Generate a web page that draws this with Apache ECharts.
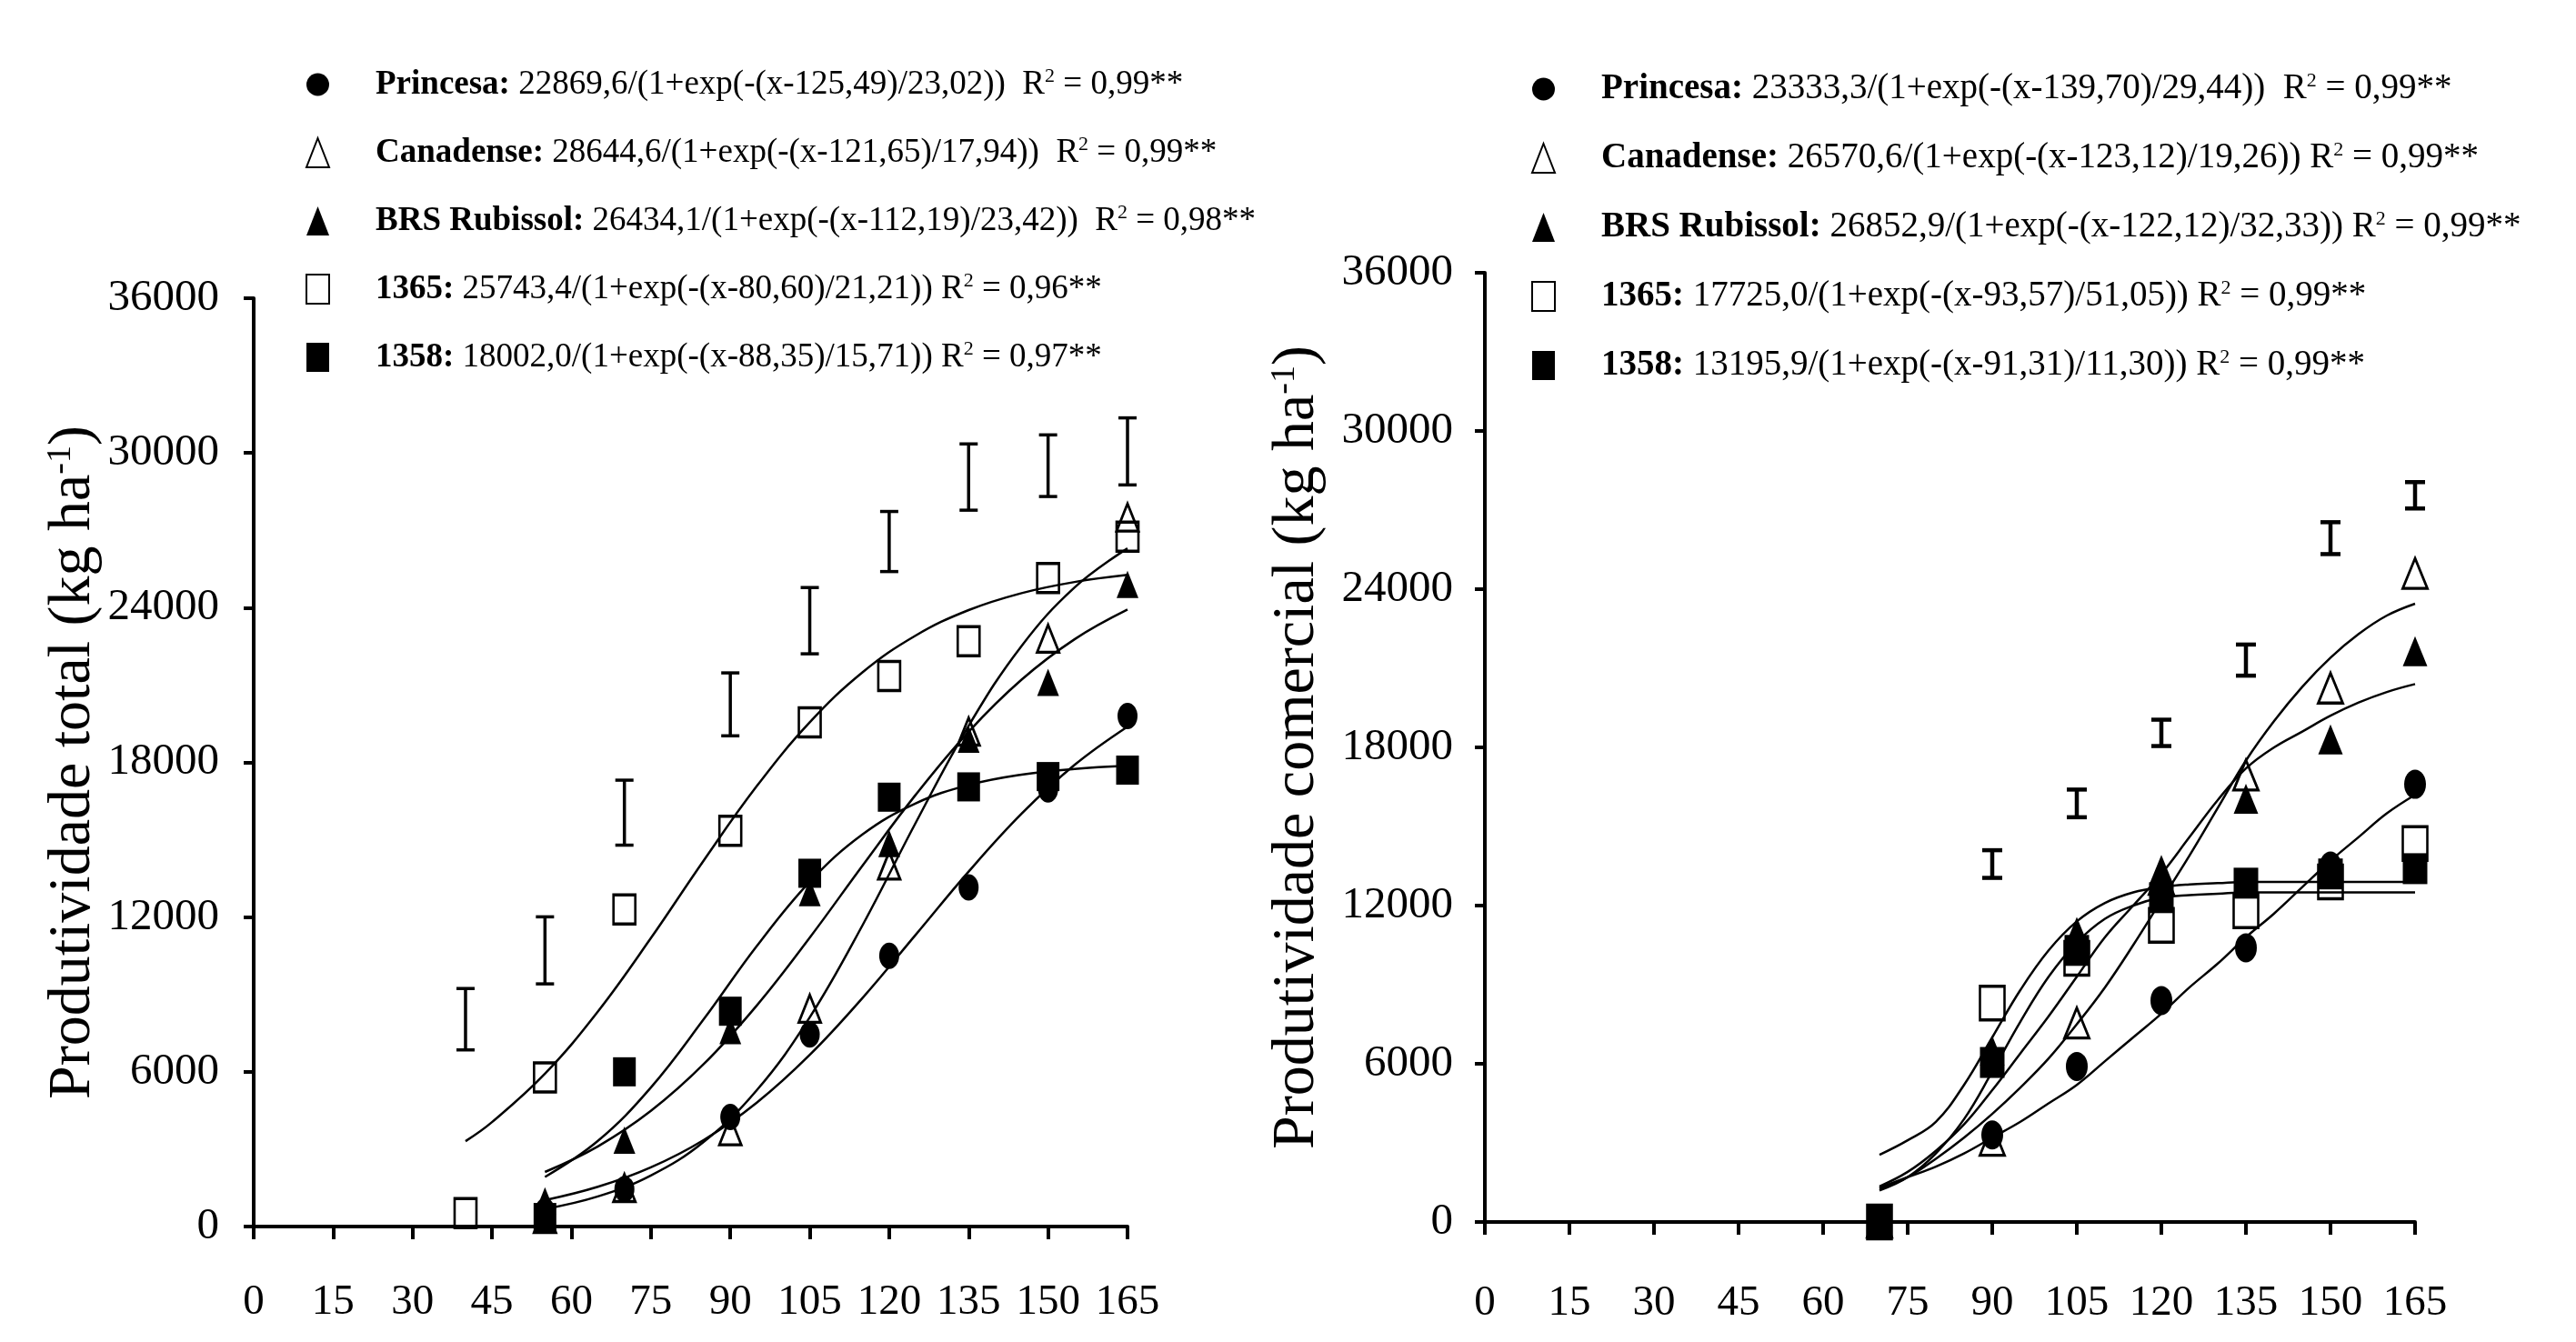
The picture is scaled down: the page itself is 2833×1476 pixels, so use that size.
<!DOCTYPE html>
<html>
<head>
<meta charset="utf-8">
<script src="https://cdn.jsdelivr.net/npm/echarts@6/dist/echarts.min.js"></script>
<style>
  html, body { margin: 0; padding: 0; background: #fff; }
  #chart { width: 2833px; height: 1476px; }
</style>
</head>
<body>
<div id="chart"></div>
<script>
// tick labels
const xTicks = [0, 15, 30, 45, 60, 75, 90, 105, 120, 135, 150, 165];
const yTicks = [0, 6000, 12000, 18000, 24000, 30000, 36000];

const cultivars = ['Princesa', 'Canadense', 'BRS Rubissol', '1365', '1358'];

// ---- Produtividade total (left) ----
const daysTotal = [55, 70, 90, 105, 120, 135, 150, 165];
const days1365Total = [40, 55, 70, 90, 105, 120, 135, 150, 165];
const princesaTotal = [600, 1450, 4250, 7450, 10500, 13150, 16950, 19800];
const canadenseTotal = [300, 1500, 3700, 8450, 14000, 19200, 22800, 27500];
const rubissolTotal = [1000, 3350, 7600, 12950, 14850, 18900, 21100, 24900];
const l1365Total = [520, 5780, 12300, 15350, 19550, 21350, 22700, 25150, 26750];
const l1358Total = [350, 6000, 8350, 13700, 16650, 17050, 17450, 17700];

// fitted curves
const fitDaysTotal = [55, 65, 75, 85, 95, 105, 115, 125, 135, 145, 155, 165];
const fitDays1365Total = [40, 45, 55, 65, 75, 85, 95, 105, 115, 125, 135, 145, 155, 165];
const princesaFitTotal = [1022, 1541, 2296, 3360, 4805, 6658, 8874, 11313, 13764, 16010, 17902, 19386];
const canadenseFitTotal = [681, 1168, 1980, 3288, 5288, 8115, 11698, 15655, 19418, 22517, 24783, 26300];
const rubissolFitTotal = [2116, 3110, 4485, 6304, 8574, 11205, 14009, 16744, 19189, 21208, 22774, 23925];
const l1365FitTotal = [3309, 4050, 5928, 8339, 11183, 14202, 17080, 19553, 21498, 22918, 23905, 24564, 24995, 25271];
const l1358FitTotal = [1923, 3321, 5391, 8045, 10878, 13370, 15213, 16410, 17123, 17526, 17747, 17866];

// bars (left)
const barDaysTotal = [40, 55, 70, 90, 105, 120, 135, 150, 165];
const barLowTotal = [6850, 9410, 14790, 19030, 22210, 25400, 27780, 28310, 28760];
const barHighTotal = [9230, 12010, 17310, 21470, 24780, 27730, 30350, 30700, 31360];

// ---- Produtividade comercial (right) ----
const daysCom = [70, 90, 105, 120, 135, 150, 165];
const princesaCom = [0, 3300, 5900, 8400, 10400, 13500, 16600];
const canadenseCom = [0, 3100, 7550, 13000, 16950, 20250, 24600];
const rubissolCom = [0, 6500, 11000, 13350, 16050, 18300, 21650];
const l1365Com = [0, 8300, 10000, 11250, 11800, 12900, 14350];
const l1358Com = [0, 6050, 10300, 12300, 12850, 13200, 13400];

const fitDaysCom = [70, 75, 80, 85, 90, 95, 100, 105, 110, 115, 120, 125, 130, 135, 140, 145, 150, 155, 160, 165];
const princesaFitCom = [1300, 1700, 2100, 2600, 3200, 3800, 4500, 5200, 6100, 7000, 7900, 8900, 9800, 10800, 11700, 12700, 13700, 14600, 15500, 16200];
const canadenseFitCom = [1250, 1700, 2400, 3200, 4100, 5100, 6200, 7500, 8900, 10500, 12200, 13900, 15700, 17500, 19000, 20300, 21400, 22300, 23000, 23450];
const rubissolFitCom = [1350, 1900, 2700, 3700, 5000, 6400, 7800, 9300, 10800, 12000, 13200, 14600, 16000, 17200, 18000, 18600, 19200, 19700, 20100, 20400];
const l1365FitCom = [2550, 3100, 3800, 5200, 7000, 8800, 10300, 11400, 12100, 12500, 12700, 12800, 12850, 12900, 12900, 12900, 12900, 12900, 12900, 12900];
const l1358FitCom = [1200, 1700, 2600, 3900, 5700, 7600, 9300, 10600, 11500, 12000, 12300, 12400, 12450, 12500, 12500, 12500, 12500, 12500, 12500, 12500];

const barDaysCom = [90, 105, 120, 135, 150, 165];
const barLowCom = [13050, 15350, 18050, 20720, 25330, 27060];
const barHighCom = [14100, 16400, 19050, 21900, 26540, 28060];

// equations in the legends
const eqTotal = {
    'Princesa': '22869,6/(1+exp(-(x-125,49)/23,02))  R{s|2} = 0,99**',
    'Canadense': '28644,6/(1+exp(-(x-121,65)/17,94))  R{s|2} = 0,99**',
    'BRS Rubissol': '26434,1/(1+exp(-(x-112,19)/23,42))  R{s|2} = 0,98**',
    '1365': '25743,4/(1+exp(-(x-80,60)/21,21)) R{s|2} = 0,96**',
    '1358': '18002,0/(1+exp(-(x-88,35)/15,71)) R{s|2} = 0,97**'
};
const eqCom = {
    'Princesa': '23333,3/(1+exp(-(x-139,70)/29,44))  R{s|2} = 0,99**',
    'Canadense': '26570,6/(1+exp(-(x-123,12)/19,26)) R{s|2} = 0,99**',
    'BRS Rubissol': '26852,9/(1+exp(-(x-122,12)/32,33)) R{s|2} = 0,99**',
    '1365': '17725,0/(1+exp(-(x-93,57)/51,05)) R{s|2} = 0,99**',
    '1358': '13195,9/(1+exp(-(x-91,31)/11,30)) R{s|2} = 0,99**'
};

const FONT = '"Liberation Serif", "Times New Roman", serif';
const filled = { color: '#000', opacity: 1 };
const open = { color: 'rgba(255,255,255,0)', borderColor: '#000', borderWidth: 3, opacity: 1 };
const markStyle = {
    'Princesa': { symbol: 'circle', style: filled },
    'Canadense': { symbol: 'triangle', style: open },
    'BRS Rubissol': { symbol: 'triangle', style: filled },
    '1365': { symbol: 'rect', style: open },
    '1358': { symbol: 'rect', style: filled }
};
const sizeTotal = { 'Princesa': [22, 29], 'Canadense': [24, 30], 'BRS Rubissol': [24, 30], '1365': [24, 32], '1358': [25, 32] };
const sizeCom = { 'Princesa': [24, 32], 'Canadense': [27, 33], 'BRS Rubissol': [27, 33], '1365': [27, 37], '1358': [27, 34] };

function pairs(xs, ys) {
    return xs.map((x, i) => [x, ys[i]]);
}

function marks(name, xs, ys, idx, sizes) {
    return {
        name: name,
        type: 'scatter',
        xAxisIndex: idx,
        yAxisIndex: idx,
        data: pairs(xs, ys),
        symbol: markStyle[name].symbol,
        symbolSize: sizes[name],
        itemStyle: markStyle[name].style,
        z: 4
    };
}

function fit(name, xs, ys, idx) {
    return {
        name: name + ' (ajuste)',
        type: 'line',
        xAxisIndex: idx,
        yAxisIndex: idx,
        data: pairs(xs, ys),
        showSymbol: false,
        smooth: 0.4,
        lineStyle: { color: '#000', width: 2.5 },
        z: 2,
        silent: true
    };
}

function bars(xs, lo, hi, idx, halfW, lw) {
    return {
        type: 'custom',
        xAxisIndex: idx,
        yAxisIndex: idx,
        data: xs.map((x, i) => [x, lo[i], hi[i]]),
        encode: { x: 0, y: [1, 2] },
        z: 3,
        silent: true,
        renderItem: function (params, api) {
            const top = api.coord([api.value(0), api.value(2)]);
            const bot = api.coord([api.value(0), api.value(1)]);
            const st = { stroke: '#000', lineWidth: lw };
            return {
                type: 'group',
                children: [
                    { type: 'line', shape: { x1: top[0], y1: top[1], x2: bot[0], y2: bot[1] }, style: st },
                    { type: 'line', shape: { x1: top[0] - halfW, y1: top[1], x2: top[0] + halfW, y2: top[1] }, style: st },
                    { type: 'line', shape: { x1: bot[0] - halfW, y1: bot[1], x2: bot[0] + halfW, y2: bot[1] }, style: st }
                ]
            };
        }
    };
}

function xAxisFor(idx, margin) {
    return {
        type: 'value',
        gridIndex: idx,
        min: xTicks[0],
        max: xTicks[xTicks.length - 1],
        interval: xTicks[1] - xTicks[0],
        splitLine: { show: false },
        axisLine: { show: true, onZero: false, lineStyle: { color: '#000', width: 4 } },
        axisTick: { show: true, length: 14, lineStyle: { color: '#000', width: 4 } },
        axisLabel: { margin: margin, fontSize: 47, color: '#000', fontFamily: FONT, formatter: v => String(v) }
    };
}

function yAxisFor(idx, name, margin, gap) {
    return {
        type: 'value',
        gridIndex: idx,
        min: yTicks[0],
        max: yTicks[yTicks.length - 1],
        interval: yTicks[1] - yTicks[0],
        splitLine: { show: false },
        axisLine: { show: true, onZero: false, lineStyle: { color: '#000', width: 4 } },
        axisTick: { show: true, length: 11, lineStyle: { color: '#000', width: 4 } },
        axisLabel: { margin: margin, fontSize: 49, color: '#000', fontFamily: FONT, formatter: v => String(v) },
        name: name,
        nameLocation: 'middle',
        nameRotate: 90,
        nameGap: gap,
        nameTextStyle: {
            fontSize: 66,
            color: '#000',
            fontFamily: FONT,
            rich: {
                s: { fontSize: 38, verticalAlign: 'top', lineHeight: 38, fontFamily: FONT, color: '#000' }
            }
        }
    };
}

function legendFor(eq, left, top, fontSize, gap) {
    return {
        data: cultivars,
        orient: 'vertical',
        left: left,
        top: top,
        itemWidth: 25,
        itemHeight: 32,
        itemGap: gap,
        symbolKeepAspect: false,
        selectedMode: false,
        formatter: name => '{g| }{b|' + name + ':} ' + eq[name],
        textStyle: {
            fontSize: fontSize,
            lineHeight: 40,
            color: '#000',
            fontFamily: FONT,
            rich: {
                g: { width: 46 },
                b: { fontWeight: 'bold', fontSize: fontSize, fontFamily: FONT, color: '#000' },
                s: { fontSize: 22, verticalAlign: 'top', lineHeight: 22, fontFamily: FONT, color: '#000' }
            }
        }
    };
}

const chart = echarts.init(document.getElementById('chart'), null, { renderer: 'canvas' });

const series = [
    bars(barDaysTotal, barLowTotal, barHighTotal, 0, 10, 3.5),
    fit('Princesa', fitDaysTotal, princesaFitTotal, 0),
    fit('Canadense', fitDaysTotal, canadenseFitTotal, 0),
    fit('BRS Rubissol', fitDaysTotal, rubissolFitTotal, 0),
    fit('1365', fitDays1365Total, l1365FitTotal, 0),
    fit('1358', fitDaysTotal, l1358FitTotal, 0),
    marks('Princesa', daysTotal, princesaTotal, 0, sizeTotal),
    marks('Canadense', daysTotal, canadenseTotal, 0, sizeTotal),
    marks('BRS Rubissol', daysTotal, rubissolTotal, 0, sizeTotal),
    marks('1365', days1365Total, l1365Total, 0, sizeTotal),
    marks('1358', daysTotal, l1358Total, 0, sizeTotal),

    bars(barDaysCom, barLowCom, barHighCom, 1, 11, 4.5),
    fit('Princesa', fitDaysCom, princesaFitCom, 1),
    fit('Canadense', fitDaysCom, canadenseFitCom, 1),
    fit('BRS Rubissol', fitDaysCom, rubissolFitCom, 1),
    fit('1365', fitDaysCom, l1365FitCom, 1),
    fit('1358', fitDaysCom, l1358FitCom, 1),
    marks('Princesa', daysCom, princesaCom, 1, sizeCom),
    marks('Canadense', daysCom, canadenseCom, 1, sizeCom),
    marks('BRS Rubissol', daysCom, rubissolCom, 1, sizeCom),
    marks('1365', daysCom, l1365Com, 1, sizeCom),
    marks('1358', daysCom, l1358Com, 1, sizeCom)
];

chart.setOption({
    backgroundColor: '#fff',
    animation: false,
    grid: [
        { left: 279, top: 328, width: 961, height: 1021 },
        { left: 1633, top: 300, width: 1023, height: 1044 }
    ],
    xAxis: [xAxisFor(0, 60), xAxisFor(1, 66)],
    yAxis: [
        yAxisFor(0, 'Produtividade total (kg ha{s|-1})', 38, 165),
        yAxisFor(1, 'Produtividade comercial (kg ha{s|-1})', 35, 173)
    ],
    legend: [
        legendFor(eqTotal, 331, 68, 37, 35),
        legendFor(eqCom, 1679, 73, 39, 36)
    ],
    series: series
});
</script>
</body>
</html>
